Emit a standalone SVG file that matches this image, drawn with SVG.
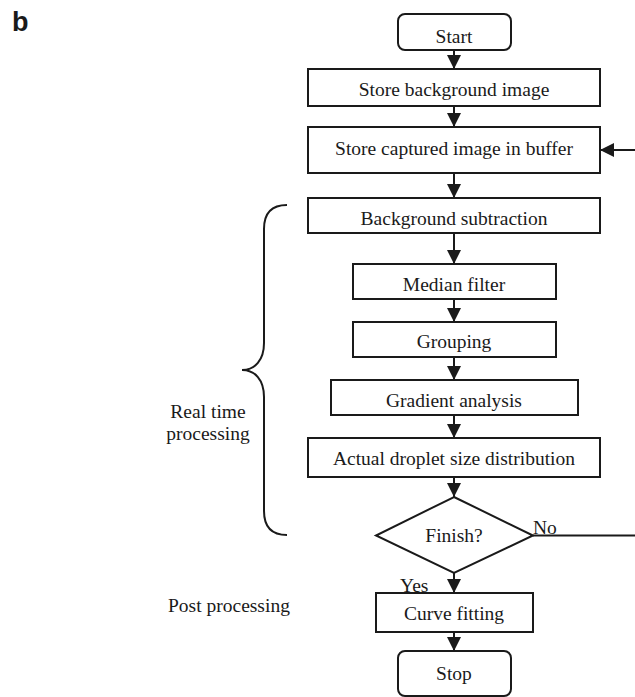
<svg xmlns="http://www.w3.org/2000/svg" width="635" height="697" viewBox="0 0 635 697">
<style>
.box{fill:#fff;stroke:#1a1a1a;stroke-width:2}
.t{font-family:'Liberation Serif',serif;font-size:19.5px;fill:#1a1a1a;text-anchor:middle}
.l{font-family:'Liberation Serif',serif;font-size:19.5px;fill:#1a1a1a}
.c{fill:none;stroke:#1a1a1a;stroke-width:2}
</style>
<defs>
<marker id="ah" markerUnits="userSpaceOnUse" markerWidth="14" markerHeight="14" refX="14" refY="7" orient="auto">
<path d="M0,0 L14,7 L0,14 z" fill="#1a1a1a"/>
</marker>
</defs>
<rect width="635" height="697" fill="#fff"/>
<text x="12" y="31" font-family="'Liberation Sans',sans-serif" font-size="27" font-weight="bold" fill="#1a1a1a">b</text>

<g id="connectors">
<path class="c" d="M454,50 V69" marker-end="url(#ah)"/>
<path class="c" d="M454,106 V127" marker-end="url(#ah)"/>
<path class="c" d="M454,173 V198" marker-end="url(#ah)"/>
<path class="c" d="M454,233 V264" marker-end="url(#ah)"/>
<path class="c" d="M454,299 V322" marker-end="url(#ah)"/>
<path class="c" d="M454,357 V380" marker-end="url(#ah)"/>
<path class="c" d="M454,415 V438" marker-end="url(#ah)"/>
<path class="c" d="M454,477 V497" marker-end="url(#ah)"/>
<path class="c" d="M454,573 V593" marker-end="url(#ah)"/>
<path class="c" d="M454,632 V651" marker-end="url(#ah)"/>
<path class="c" d="M533,535.5 H637 V150 H600" marker-end="url(#ah)"/>
</g>

<g id="start"><rect class="box" x="398" y="14" width="113" height="36" rx="7"/><text class="t" x="454" y="43">Start</text></g>
<g id="store-bg"><rect class="box" x="308" y="69" width="292" height="37"/><text class="t" x="454" y="96">Store background image</text></g>
<g id="store-cap"><rect class="box" x="308" y="127" width="292" height="46"/><text class="t" x="454" y="155">Store captured image in buffer</text></g>
<g id="bg-sub"><rect class="box" x="308" y="198" width="292" height="35"/><text class="t" x="454" y="225">Background subtraction</text></g>
<g id="median"><rect class="box" x="353" y="264" width="203" height="35"/><text class="t" x="454" y="291">Median filter</text></g>
<g id="grouping"><rect class="box" x="353" y="322" width="203" height="35"/><text class="t" x="454" y="348">Grouping</text></g>
<g id="gradient"><rect class="box" x="331" y="380" width="247" height="35"/><text class="t" x="454" y="407">Gradient analysis</text></g>
<g id="actual"><rect class="box" x="308" y="438" width="292" height="39"/><text class="t" x="454" y="465">Actual droplet size distribution</text></g>
<g id="finish"><polygon class="box" points="454,497 533,535.5 454,573 376,535.5"/><text class="t" x="454" y="542">Finish?</text></g>
<g id="curve"><rect class="box" x="376" y="593" width="157" height="39"/><text class="t" x="454" y="620">Curve fitting</text></g>
<g id="stop"><rect class="box" x="398" y="651" width="113" height="45" rx="7"/><text class="t" x="454" y="680">Stop</text></g>

<g id="labels">
<text class="l" x="533" y="534">No</text>
<text class="l" x="400" y="592">Yes</text>
<text class="t" x="208" y="418">Real time</text>
<text class="t" x="208" y="440">processing</text>
<text class="l" x="168" y="612">Post processing</text>
</g>

<g id="brace">
<path class="c" d="M287,205 C272,205 264,213 264,229 L264,343 C264,360 255,370 242,370 C255,370 264,380 264,397 L264,511 C264,527 272,535 287,535"/>
</g>
</svg>
